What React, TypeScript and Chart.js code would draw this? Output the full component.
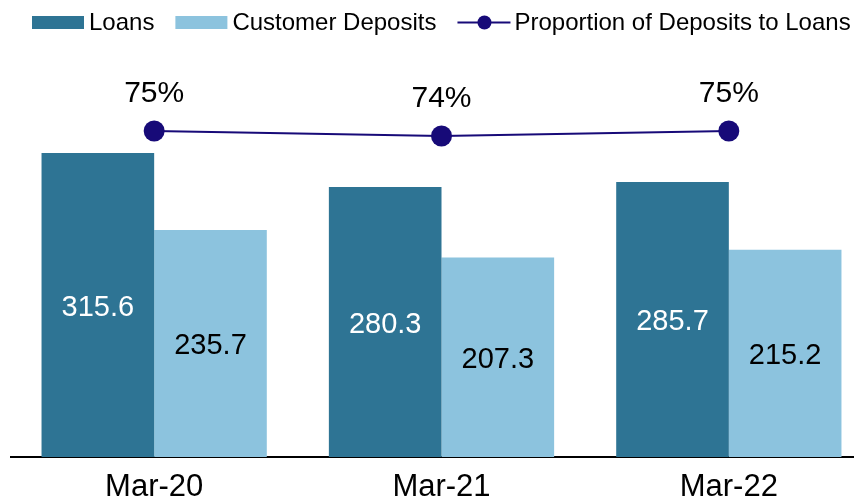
import React, { useEffect, useRef } from "react";
import { Chart, registerables } from "chart.js";

Chart.register(...registerables);

const categories = ["Mar-20", "Mar-21", "Mar-22"];
const loans = [315.6, 280.3, 285.7];
const deposits = [235.7, 207.3, 215.2];
const proportion = [75, 74, 75];
const seriesNames = ["Loans", "Customer Deposits", "Proportion of Deposits to Loans"];

const FONT = '"Liberation Sans", Arial, sans-serif';
const LOAN_COLOR = "#2E7494";
const DEP_COLOR = "#8CC3DE";
const LINE_COLOR = "#170A78";
const CANVAS_W = 883;

const legendPlugin = {
  id: "customLegend",
  afterDraw(chart: any) {
    const ctx = chart.ctx;
    ctx.save();
    ctx.font = `24px ${FONT}`;
    ctx.textBaseline = "alphabetic";
    ctx.textAlign = "left";
    let x = 32;
    chart.data.datasets.forEach((ds: any) => {
      if (ds.type === "line") {
        ctx.strokeStyle = ds.borderColor;
        ctx.lineWidth = 2;
        ctx.beginPath();
        ctx.moveTo(x, 22.5);
        ctx.lineTo(x + 53, 22.5);
        ctx.stroke();
        ctx.fillStyle = ds.borderColor;
        ctx.beginPath();
        ctx.arc(x + 27, 22.5, 7, 0, Math.PI * 2);
        ctx.fill();
      } else {
        ctx.fillStyle = ds.backgroundColor;
        ctx.fillRect(x, 16, 52, 13);
      }
      ctx.fillStyle = "#000";
      ctx.fillText(ds.label, x + 57, 30);
      x += 57 + ctx.measureText(ds.label).width + 21;
    });
    ctx.restore();
  },
};

const valueLabelPlugin = {
  id: "valueLabels",
  afterDatasetsDraw(chart: any) {
    const ctx = chart.ctx;
    ctx.save();
    chart.data.datasets.forEach((ds: any, di: number) => {
      const meta = chart.getDatasetMeta(di);
      meta.data.forEach((el: any, i: number) => {
        const v = ds.data[i];
        if (ds.type === "line") {
          const { x, y } = el.getProps(["x", "y"], true);
          ctx.font = `30px ${FONT}`;
          ctx.fillStyle = "#000";
          ctx.textAlign = "center";
          ctx.textBaseline = "alphabetic";
          ctx.fillText(`${v}%`, x, y - 29.5);
        } else {
          const { x, y, base } = el.getProps(["x", "y", "base"], true);
          ctx.font = `29px ${FONT}`;
          ctx.fillStyle = di === 0 ? "#FFFFFF" : "#000000";
          ctx.textAlign = "center";
          ctx.textBaseline = "alphabetic";
          ctx.fillText(v.toFixed(1), x, (y + base) / 2 + 10.5);
        }
      });
    });
    ctx.restore();
  },
};

export default function App() {
  const ref = useRef<HTMLCanvasElement>(null);

  useEffect(() => {
    if (!ref.current) return;
    const chart = new Chart(ref.current, {
      type: "bar",
      data: {
        labels: categories,
        datasets: [
          {
            type: "bar",
            label: seriesNames[0],
            data: loans,
            backgroundColor: LOAN_COLOR,
            yAxisID: "y",
            order: 1,
            categoryPercentage: 0.784,
            barPercentage: 1,
          },
          {
            type: "bar",
            label: seriesNames[1],
            data: deposits,
            backgroundColor: DEP_COLOR,
            yAxisID: "y",
            order: 1,
            categoryPercentage: 0.784,
            barPercentage: 1,
          },
          {
            type: "line",
            label: seriesNames[2],
            data: proportion,
            borderColor: LINE_COLOR,
            backgroundColor: LINE_COLOR,
            borderWidth: 2,
            pointRadius: 10.5,
            pointHoverRadius: 10.5,
            pointBackgroundColor: LINE_COLOR,
            pointBorderWidth: 0,
            tension: 0,
            yAxisID: "y1",
            order: 0,
          },
        ] as any,
      },
      options: {
        animation: false,
        responsive: false,
        devicePixelRatio: 1,
        layout: { padding: { top: 60, left: 10.5, right: 0.5, bottom: 0 } },
        plugins: {
          legend: { display: false },
          tooltip: { enabled: false },
        },
        scales: {
          x: {
            grid: { display: false, drawTicks: false },
            border: { display: true, color: "#000", width: 2 },
            ticks: {
              color: "#000",
              font: { size: 31, family: FONT },
              padding: 12,
              maxRotation: 0,
            },
            afterFit: (scale: any) => {
              scale.height = 42;
            },
          },
          y: {
            display: false,
            min: 0,
            max: 412.3,
          },
          y1: {
            display: false,
            position: "right",
            min: 9.8,
            max: 89.2,
          },
        },
      },
      plugins: [legendPlugin, valueLabelPlugin],
    });
    return () => chart.destroy();
  }, []);

  return (
    <div style={{ position: "fixed", left: 0, top: 0, width: CANVAS_W, height: 499, background: "#fff" }}>
      <canvas ref={ref} width={CANVAS_W} height={499} style={{ display: "block", width: CANVAS_W, height: 499 }} />
    </div>
  );
}
